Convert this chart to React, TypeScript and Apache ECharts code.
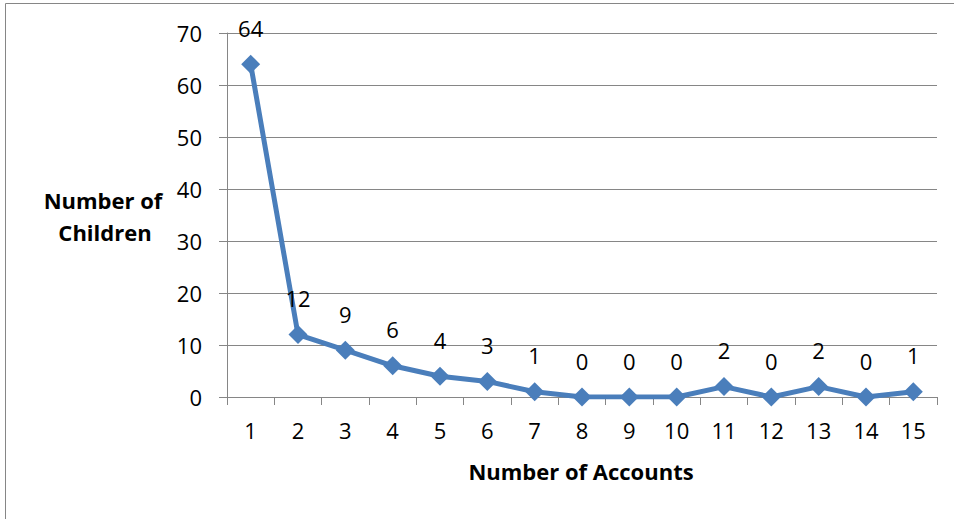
import React, { useEffect, useRef } from "react";
import * as echarts from "echarts";

const categories = ["1","2","3","4","5","6","7","8","9","10","11","12","13","14","15"];
const children = [64, 12, 9, 6, 4, 3, 1, 0, 0, 0, 2, 0, 2, 0, 1];
const xTitle = "Number of Accounts";
const yTitle = ["Number of", "Children"];

const FONT = "'Open Sans', 'Liberation Sans', sans-serif";
const GRAY = "#868686";
const BLUE = "#4a7ebb";

export default function App() {
  const ref = useRef<HTMLDivElement>(null);
  useEffect(() => {
    if (!ref.current) return;
    const chart = echarts.init(ref.current, undefined, { renderer: "svg" });
    chart.setOption({
      animation: false,
      backgroundColor: "#ffffff",
      textStyle: { fontFamily: FONT },
      grid: { left: 227, top: 33, right: 17, bottom: 122, containLabel: false },
      xAxis: {
        type: "category",
        data: categories,
        boundaryGap: true,
        axisLine: { show: true, lineStyle: { color: GRAY, width: 1 } },
        axisTick: { show: true, length: 8, lineStyle: { color: GRAY } },
        axisLabel: { color: "#000", fontSize: 22, margin: 22, fontFamily: FONT },
        splitLine: { show: false },
      },
      yAxis: {
        type: "value",
        min: 0,
        max: 70,
        interval: 10,
        axisLine: { show: true, lineStyle: { color: GRAY, width: 1 } },
        axisTick: { show: true, length: 8, lineStyle: { color: GRAY } },
        axisLabel: { color: "#000", fontSize: 22, margin: 25, fontFamily: FONT },
        splitLine: { show: true, lineStyle: { color: GRAY, width: 1 } },
      },
      graphic: [
        {
          type: "rect",
          shape: { x: 5.5, y: 3.5, width: 1000, height: 600 },
          style: { fill: "none", stroke: GRAY, lineWidth: 1 },
          silent: true,
        },
        {
          type: "text",
          x: 581,
          y: 471,
          style: {
            text: xTitle,
            font: `bold 22px ${FONT}`,
            fill: "#000",
            textAlign: "center",
            textVerticalAlign: "middle",
          },
        },
        {
          type: "text",
          x: 103,
          y: 200,
          style: {
            text: yTitle[0],
            font: `bold 22px ${FONT}`,
            fill: "#000",
            textAlign: "center",
            textVerticalAlign: "middle",
          },
        },
        {
          type: "text",
          x: 105,
          y: 232,
          style: {
            text: yTitle[1],
            font: `bold 22px ${FONT}`,
            fill: "#000",
            textAlign: "center",
            textVerticalAlign: "middle",
          },
        },
      ],
      series: [
        {
          type: "line",
          data: children,
          symbol: "diamond",
          symbolSize: 19,
          itemStyle: { color: BLUE },
          lineStyle: { color: BLUE, width: 5 },
          label: {
            show: true,
            position: "top",
            distance: 16,
            color: "#000",
            fontSize: 22,
            fontFamily: FONT,
          },
        },
      ],
    });
    return () => chart.dispose();
  }, []);
  return (
    <div
      ref={ref}
      style={{ position: "fixed", left: 0, top: 0, width: 954, height: 519 }}
    />
  );
}
